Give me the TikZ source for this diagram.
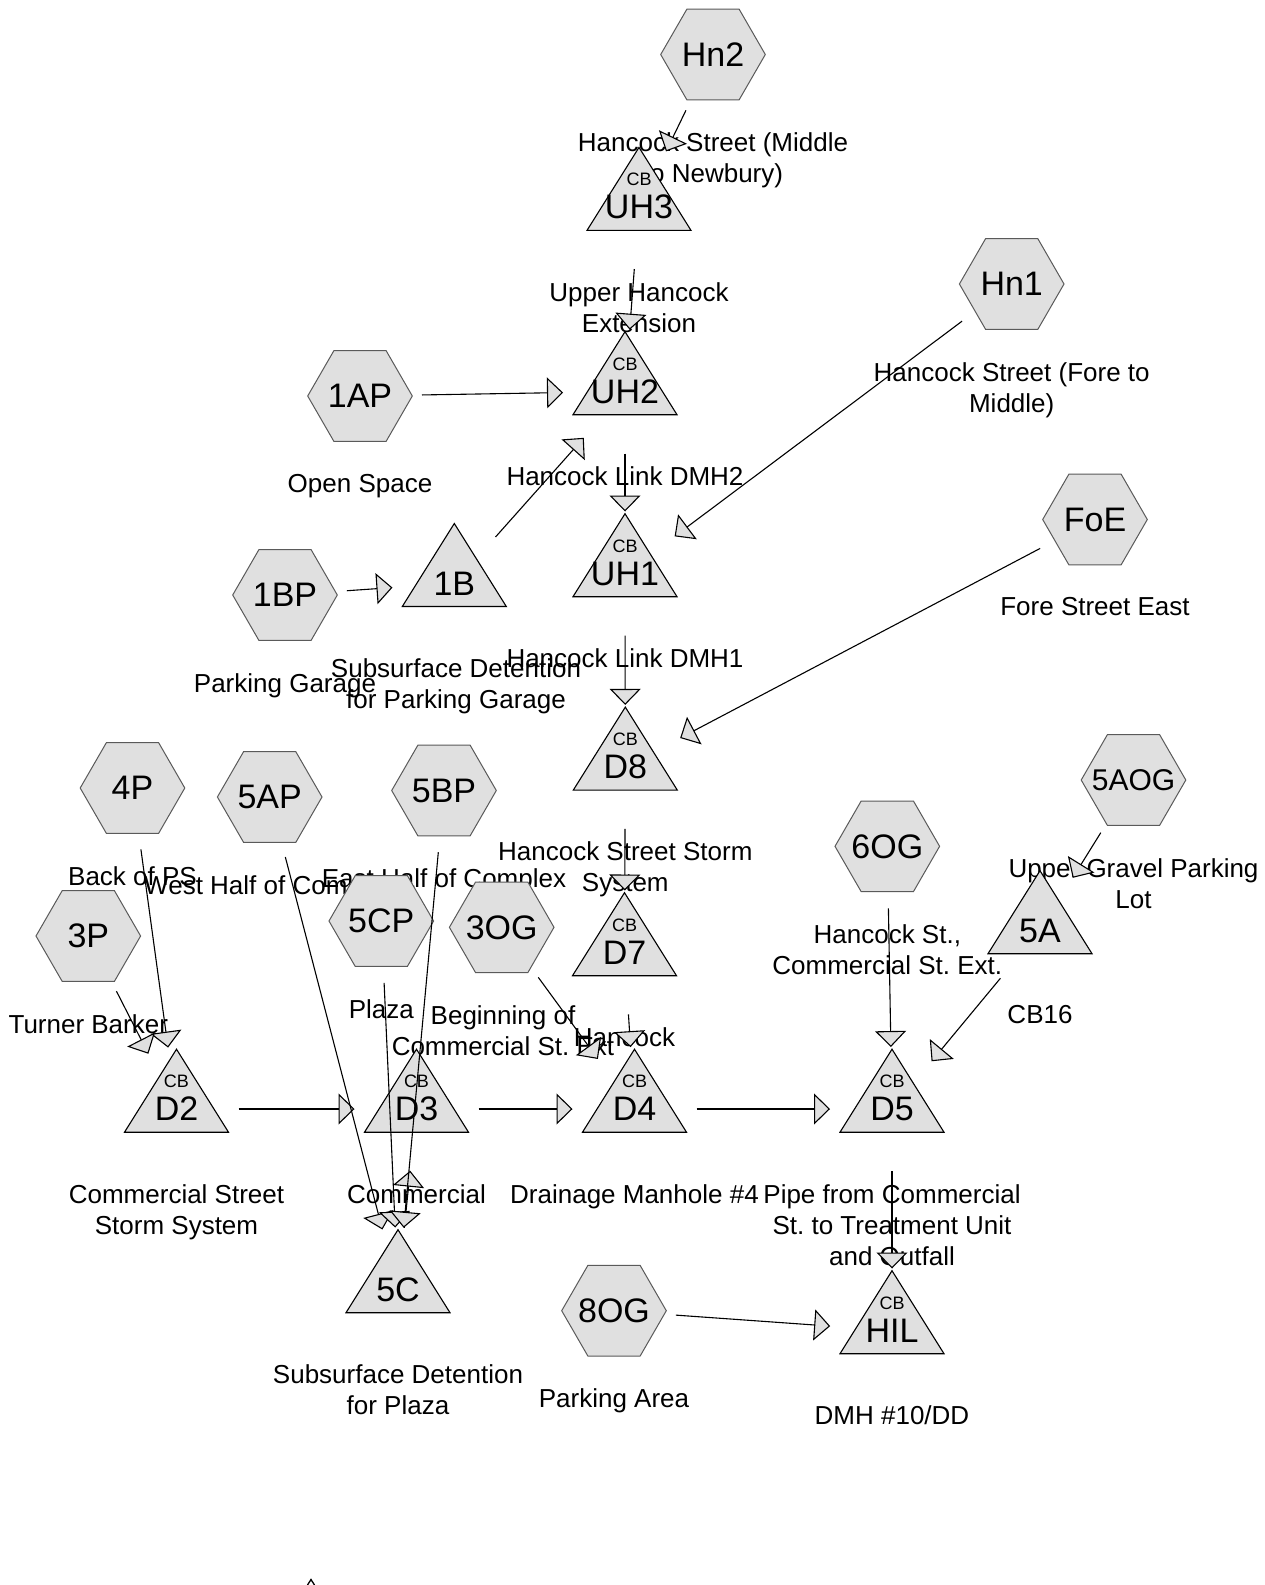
\documentclass[tikz,border=0pt]{standalone}
\usepackage{fontspec}
\setmainfont{Liberation Sans}
\usetikzlibrary{shapes.geometric,arrows.meta}
\definecolor{nodefill}{RGB}{224,224,224}
\definecolor{hexline}{RGB}{90,90,90}
\newcommand\bigtxt{\fontsize{34}{34}\selectfont}
\newcommand\midtxt{\fontsize{30}{30}\selectfont}
\newcommand\cbtxt{\fontsize{18}{18}\selectfont}
\newcommand\labtxt{\fontsize{26}{31}\selectfont}
\newcommand\hx[1]{\makebox[0pt]{#1}}
% triangle node: name, x, y, text
\newcommand\TriNode[4]{%
  \pic at (#2,#3) {tri};
  \node[trinode] (#1) at (#2,#3) {#4};}
% triangle node with a small "CB" above its name
\newcommand\CbTriNode[4]{%
  \TriNode{#1}{#2}{#3}{#4}
  \node[cbnode] (#1-cb) at ([yshift=27.5pt]#1.center) {CB};}
\frenchspacing
\begin{document}
\begin{tikzpicture}[x=1pt,y=-1pt,
  hexnode/.style={regular polygon, regular polygon sides=6, minimum size=104.6pt, inner sep=0pt, draw=hexline, fill=nodefill, line width=1pt, font=\bigtxt},
  trinode/.style={inner sep=0pt, font=\bigtxt, yshift=-4.5pt},
  cbnode/.style={inner sep=0pt, font=\cbtxt},
  lab/.style={anchor=north, inner sep=0pt, align=center, font=\labtxt},
  tri/.pic={\draw[line width=1.1pt, fill=nodefill] (-52,27.7) -- (0,-55.3) -- (52,27.7) -- cycle;},
  flow/.style={line width=1.1pt, shorten <=62pt, shorten >=62pt, -{Triangle[length=16pt,width=31pt,fill=nodefill]}},
]
\fill[white] (0,0) rectangle (1265,1585);
\useasboundingbox (0,0) rectangle (1265,1585);

% ---------- labels (drawn first, under the shapes)
\node[lab] (l-hn2) at (713,132.5) {Hancock Street (Middle\\to Newbury)};
\node[lab] (l-hn1) at (1011.7,362) {Hancock Street (Fore to\\Middle)};
\node[lab] (l-foe) at (1095,597.5) {Fore Street East};
\node[lab] (l-p1a) at (360,474) {Open Space};
\node[lab] (l-p1b) at (285,673) {Parking Garage};
\node[lab] (l-p4) at (132.5,866) {Back of PS};
\node[lab] (l-p5a) at (269.7,875) {West Half of Complex};
\node[lab] (l-p5b) at (444,868.5) {East Half of Complex};
\node[lab] (l-p3) at (88.3,1014) {Turner Barker};
\node[lab] (l-p5c) at (381.3,999) {Plaza};
\node[lab] (l-og3) at (503,1005.3) {Beginning of\\Commercial St. Ext};
\node[lab] (l-og6) at (887.3,924.3) {Hancock St.,\\Commercial St. Ext.};
\node[lab] (l-og5a) at (1133.5,858) {Upper Gravel Parking\\Lot};
\node[lab] (l-og8) at (614,1388.7) {Parking Area};
\node[lab] (l-uh3) at (639,282.2) {Upper Hancock\\Extension};
\node[lab] (l-uh2) at (625,466.5) {Hancock Link DMH2};
\node[lab] (l-uh1) at (625,648.5) {Hancock Link DMH1};
\node[lab] (l-d8) at (625.3,841.9) {Hancock Street Storm\\System};
\node[lab] (l-d7) at (624.5,1027.5) {Hancock};
\node[lab] (l-b1) at (456,658.3) {Subsurface Detention\\for Parking Garage};
\node[lab] (l-d2) at (176.5,1184) {Commercial Street\\Storm System};
\node[lab] (l-d3) at (416.5,1184) {Commercial};
\node[lab] (l-d4) at (634.5,1184) {Drainage Manhole \#4};
\node[lab] (l-d5) at (892,1184) {Pipe from Commercial\\St. to Treatment Unit\\and Outfall};
\node[lab] (l-hil) at (892,1405.5) {DMH \#10/DD};
\node[lab] (l-c5) at (398,1364.5) {Subsurface Detention\\for Plaza};
\node[lab] (l-a5) at (1040,1005.5) {CB16};

% ---------- hexagon nodes
\node[hexnode] (hn2) at (713,54.5) {\hx{Hn2}};
\node[hexnode] (hn1) at (1011.7,284) {\hx{Hn1}};
\node[hexnode] (foe) at (1095,519.5) {\hx{FoE}};
\node[hexnode] (p1a) at (360,396) {\hx{1AP}};
\node[hexnode] (p1b) at (285,595) {\hx{1BP}};
\node[hexnode] (p4) at (132.5,788) {\hx{4P}};
\node[hexnode] (p5a) at (269.7,797) {\hx{5AP}};
\node[hexnode] (p5b) at (444,790.5) {\hx{5BP}};
\node[hexnode] (p3) at (88.3,936) {\hx{3P}};
\node[hexnode] (p5c) at (381.3,921) {\hx{5CP}};
\node[hexnode] (og3) at (501.7,927.3) {\hx{3OG}};
\node[hexnode] (og6) at (887.3,846.3) {\hx{6OG}};
\node[hexnode, font=\midtxt] (og5a) at (1133.5,780) {\hx{5AOG}};
\node[hexnode] (og8) at (614,1310.7) {\hx{8OG}};

% ---------- triangle nodes
\CbTriNode{uh3}{639}{202.7}{UH3}
\CbTriNode{uh2}{625}{387}{UH2}
\CbTriNode{uh1}{625}{569}{UH1}
\CbTriNode{d8}{625.3}{762.4}{D8}
\CbTriNode{d7}{624.5}{948}{D7}
\TriNode{b1}{454.3}{578.8}{1B}
\CbTriNode{d2}{176.5}{1104.5}{D2}
\CbTriNode{d3}{416.5}{1104.5}{D3}
\CbTriNode{d4}{634.5}{1104.5}{D4}
\CbTriNode{d5}{892}{1104.5}{D5}
\CbTriNode{hil}{892}{1326}{HIL}
\TriNode{c5}{398}{1285}{5C}
\TriNode{a5}{1040}{926}{5A}

% ---------- connectors
\draw[flow] (hn2.center) -- (uh3.center);
\draw[flow] (uh3.center) -- (uh2.center);
\draw[flow] (p1a.center) -- (uh2.center);
\draw[flow] (b1.center) -- (uh2.center);
\draw[flow] (uh2.center) -- (uh1.center);
\draw[flow] (hn1.center) -- (uh1.center);
\draw[flow] (p1b.center) -- (b1.center);
\draw[flow] (uh1.center) -- (d8.center);
\draw[flow] (foe.center) -- (d8.center);
\draw[flow] (d8.center) -- (d7.center);
\draw[flow] (d7.center) -- (d4.center);
\draw[flow] (og3.center) -- (d4.center);
\draw[flow] (p4.center) -- (d2.center);
\draw[flow] (p3.center) -- (d2.center);
\draw[flow] (d2.center) -- (d3.center);
\draw[flow] (d3.center) -- (d4.center);
\draw[flow] (d4.center) -- (d5.center);
\draw[flow] (og6.center) -- (d5.center);
\draw[flow] (a5.center) -- (d5.center);
\draw[flow] (og5a.center) -- (a5.center);
\draw[flow] (d5.center) -- (hil.center);
\draw[flow] (og8.center) -- (hil.center);
\draw[flow] (c5.center) -- (d3.center);
\draw[flow] (p5a.center) -- (c5.center);
\draw[flow] (p5c.center) -- (c5.center);
\draw[flow] (p5b.center) -- (c5.center);

% ---------- small mark at the bottom edge
\draw[line width=1.3pt] (307.5,1585) -- (311,1579.5) -- (314.5,1585);
\end{tikzpicture}
\end{document}
